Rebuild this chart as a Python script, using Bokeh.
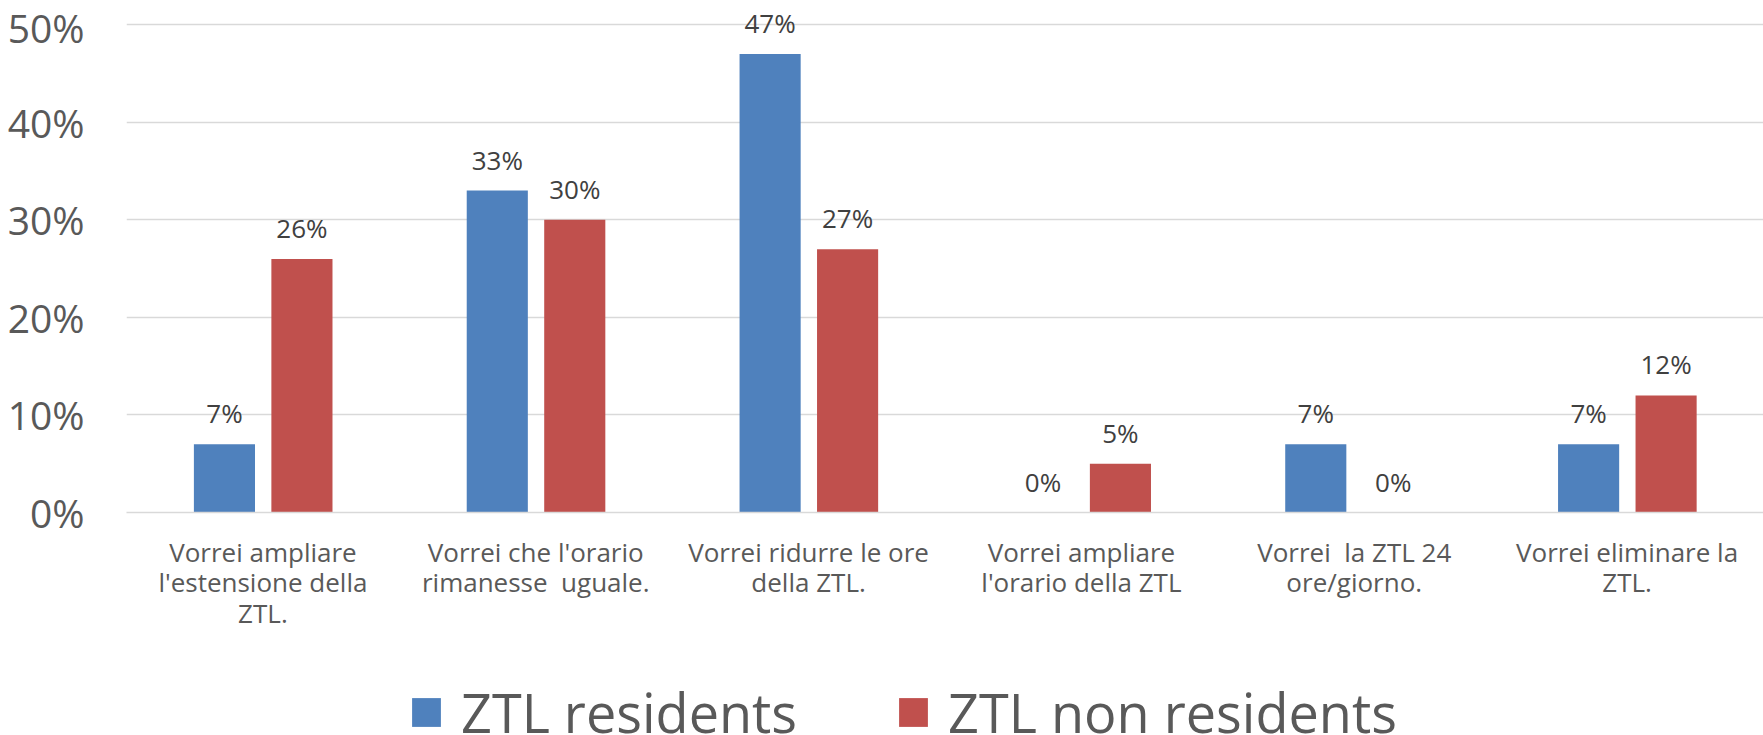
from bokeh.plotting import figure
from bokeh.layouts import column
from bokeh.models import ColumnDataSource, FactorRange, NumeralTickFormatter, Legend, LegendItem, Range1d
from bokeh.transform import dodge
from bokeh.core.properties import value
from bokeh.embed import file_html
from bokeh.resources import INLINE

categories = [
    "Vorrei ampliare\nl'estensione della\nZTL.",
    "Vorrei che l'orario\nrimanesse\u00a0 uguale.",
    "Vorrei ridurre le ore\ndella ZTL.",
    "Vorrei ampliare\nl'orario della ZTL",
    "Vorrei\u00a0 la ZTL 24\nore/giorno.",
    "Vorrei eliminare la\nZTL.",
]
residents = [0.07, 0.33, 0.47, 0.00, 0.07, 0.07]
non_residents = [0.26, 0.30, 0.27, 0.05, 0.00, 0.12]
series_names = ["ZTL residents", "ZTL non residents"]
colors = ["#4F81BD", "#C0504D"]
yticks = [0, 0.1, 0.2, 0.3, 0.4, 0.5]

src = ColumnDataSource(dict(
    cat=categories,
    res=residents,
    non=non_residents,
    res_lbl=[f"{round(v*100)}%" for v in residents],
    non_lbl=[f"{round(v*100)}%" for v in non_residents],
))

FONT = "Open Sans"
p = figure(
    x_range=FactorRange(factors=categories, range_padding=0),
    y_range=Range1d(0, 0.5167),
    frame_width=1637, frame_height=504,
    min_border_left=126, min_border_right=0, min_border_top=8, min_border_bottom=138,
    output_backend="svg", toolbar_location=None,
)
p.outline_line_color = None
p.background_fill_color = "white"

r1 = p.vbar(x=dodge("cat", -0.141, range=p.x_range), top="res", width=0.224, source=src,
            fill_color=colors[0], line_color=None)
r2 = p.vbar(x=dodge("cat", 0.143, range=p.x_range), top="non", width=0.224, source=src,
            fill_color=colors[1], line_color=None)

p.text(x=dodge("cat", -0.141, range=p.x_range), y="res", text="res_lbl", source=src,
       text_align="center", text_baseline="bottom", y_offset=-13,
       text_font=value(FONT), text_font_size="26px", text_color="#404040")
p.text(x=dodge("cat", 0.143, range=p.x_range), y="non", text="non_lbl", source=src,
       text_align="center", text_baseline="bottom", y_offset=-13,
       text_font=value(FONT), text_font_size="26px", text_color="#404040")

# axes
p.yaxis.ticker = yticks
p.yaxis.formatter = NumeralTickFormatter(format="0%")
p.yaxis.axis_line_color = None
p.yaxis.major_tick_line_color = None
p.yaxis.minor_tick_line_color = None
p.yaxis.major_tick_out = 0
p.yaxis.major_tick_in = 0
p.yaxis.minor_tick_out = 0
p.yaxis.major_label_standoff = 42
p.yaxis.major_label_text_font = FONT
p.yaxis.major_label_text_font_size = "39px"
p.yaxis.major_label_text_color = "#595959"

p.xaxis.axis_line_color = "#D9D9D9"
p.xaxis.axis_line_width = 1.5
p.xaxis.major_tick_line_color = None
p.xaxis.minor_tick_line_color = None
p.xaxis.major_tick_out = 0
p.xaxis.major_tick_in = 0
p.xaxis.major_label_standoff = 21
p.xaxis.major_label_text_font = FONT
p.xaxis.major_label_text_font_size = "26px"
p.xaxis.major_label_text_color = "#595959"
p.xaxis.major_label_text_line_height = 0.85

p.xgrid.grid_line_color = None
p.ygrid.grid_line_color = "#D9D9D9"
p.ygrid.grid_line_width = 1.5

# legend strip below the chart (bars drawn outside its visible range; only the legend shows)
pl = figure(
    width=1763, height=85,
    x_range=FactorRange(factors=categories, range_padding=0), y_range=Range1d(2, 3),
    min_border=0, x_axis_location=None, y_axis_location=None,
    output_backend="svg", toolbar_location=None,
)
pl.outline_line_color = None
pl.xgrid.grid_line_color = None
pl.ygrid.grid_line_color = None
e1 = pl.vbar(x="cat", top="res", width=0.2, source=src, fill_color=colors[0], line_color=None)
e2 = pl.vbar(x="cat", top="non", width=0.2, source=src, fill_color=colors[1], line_color=None)

legend = Legend(items=[
    LegendItem(label=series_names[0], renderers=[e1]),
    LegendItem(label=series_names[1], renderers=[e2]),
], orientation="horizontal", location=(282, -14))
legend.label_text_font = FONT
legend.label_text_font_size = "54px"
legend.label_text_color = "#595959"
legend.glyph_width = 36
legend.glyph_height = 36
legend.label_standoff = 17
legend.spacing = 98
legend.border_line_color = None
legend.background_fill_alpha = 0
legend.padding = 0
legend.margin = 0
pl.add_layout(legend, "center")

open("out.html", "w").write(file_html(column(p, pl, spacing=0), INLINE))
